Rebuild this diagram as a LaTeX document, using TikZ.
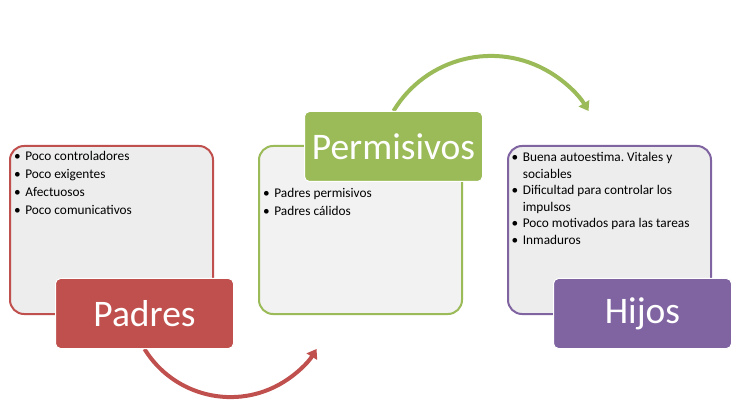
\documentclass[tikz,border=0pt]{standalone}
\usepackage{fontspec}
\setmainfont{Carlito}
\usetikzlibrary{arrows.meta,backgrounds}
\definecolor{cred}{HTML}{C0504D}
\definecolor{cgreen}{HTML}{9BBB59}
\definecolor{cpurple}{HTML}{8064A2}
\definecolor{pgray}{HTML}{EDEDED}
\definecolor{pgrayl}{HTML}{F2F2F2}
\frenchspacing
\begin{document}
\begin{tikzpicture}[x=1pt,y=1pt,
  panel/.style={draw=#1, line width=2pt, rounded corners=14pt, fill=pgray,
    minimum width=203pt, minimum height=168pt, anchor=north west, inner sep=0pt},
  tag/.style={fill=#1, draw=white, line width=1pt, rounded corners=5pt,
    minimum width=178pt, minimum height=70pt, anchor=north west, inner sep=0pt,
    text=white, font=\fontsize{37.5}{40}\selectfont},
  items/.style={anchor=base west, inner sep=0pt, font=\fontsize{13.3}{#1}\selectfont},
  flow/.style={line width=4pt, draw=#1, -{Triangle[length=9pt,width=12pt]}}]
\useasboundingbox (0,0) rectangle (740,-417);
% panels
\node[panel=cred] (p1) at (9,-145) {};
\node[panel=cgreen, fill=pgrayl] (p2) at (258,-145) {};
\node[panel=cpurple] (p3) at (507,-145) {};
% items
\node[items=17.8] (t1) at (14,-161) {\begin{tabular}[t]{@{}l@{\hspace{4.5pt}}l@{}}
• & Poco controladores\\
• & Poco exigentes\\
• & Afectuosos\\
• & Poco comunicativos
\end{tabular}};
\node[items=17.8] (t2) at (263,-198) {\begin{tabular}[t]{@{}l@{\hspace{4.5pt}}l@{}}
• & Padres permisivos\\
• & Padres cálidos
\end{tabular}};
\node[items=16.6] (t3) at (511.5,-161.5) {\begin{tabular}[t]{@{}l@{\hspace{4.5pt}}l@{}}
• & Buena autoestima. Vitales y\\
  & sociables\\
• & Dificultad para controlar los\\
  & impulsos\\
• & Poco motivados para las tareas\\
• & Inmaduros
\end{tabular}};
% tags
\node[tag=cred] (padres) at (55,-278) {Padres};
\node[tag=cgreen] (perm) at (304,-111) {Permisivos};
\node[tag=cpurple] (hijos) at (553,-278) {Hijos};
% arrows (behind the tags)
\begin{scope}[on background layer]
\draw[flow=cred] (padres.south) arc[start angle=211.6, end angle=328.4, radius=101];
\draw[flow=cgreen] (perm.north) arc[start angle=148.9, end angle=31.1, radius=113.9];
\end{scope}
\end{tikzpicture}
\end{document}
